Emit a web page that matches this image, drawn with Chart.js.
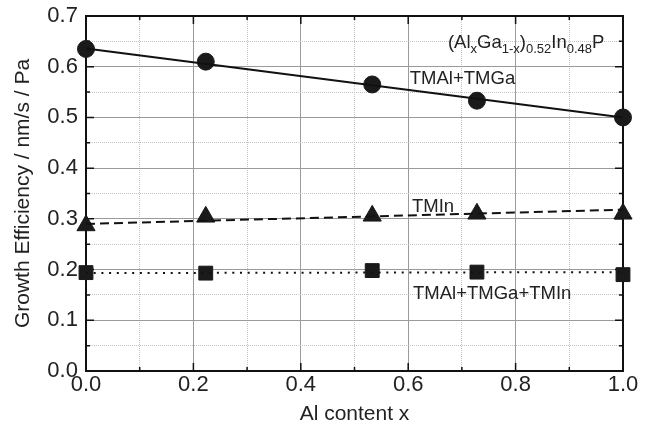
<!DOCTYPE html>
<html lang="en">
  <head>
    <meta charset="UTF-8" />
    <title>Growth efficiency vs Al content</title>
    <script src="https://cdn.jsdelivr.net/npm/chart.js@4.4.0/dist/chart.umd.min.js"></script>
    <style>
      body { margin: 0; background: #fff; }
      #wrap { width: 649px; height: 425px; }
    </style>
  </head>
  <body>
    <div id="wrap"><canvas id="chart" width="649" height="425"></canvas></div>
    <script>
      // values
      const alContent = [0.0, 0.223, 0.533, 0.728, 1.0];
      const tmalTmga = [0.635, 0.61, 0.565, 0.533, 0.5];
      const tmin = [0.287, 0.304, 0.306, 0.31, 0.31];
      const allThree = [0.194, 0.193, 0.198, 0.195, 0.19];

      // fitted lines (end points)
      const fitX = [0.0, 1.0];
      const fitTmalTmga = [0.636, 0.5];
      const fitTmin = [0.29, 0.318];
      const fitAll = [0.193, 0.195];

      // text labels placed in data coordinates
      const labels = [
        { text: "TMAl+TMGa", x: 0.603, y: 0.565 },
        { text: "TMIn", x: 0.607, y: 0.314 },
        { text: "TMAl+TMGa+TMIn", x: 0.609, y: 0.142 },
      ];

      const FONT = '"Liberation Sans", Arial, sans-serif';
      const pts = (xs, ys) => xs.map((x, i) => ({ x: x, y: ys[i] }));
      const isMajorX = (v) => Math.round(v * 10) % 2 === 0;
      const isMajorY = (v) => Math.round(v * 100) % 10 === 0;

      // frame, inward tick marks and text labels
      const decor = {
        id: "decor",
        beforeDatasetsDraw(chart) {
          const { ctx, chartArea: a, scales } = chart;
          ctx.save();
          ctx.strokeStyle = "#111";
          ctx.lineWidth = 1.5;
          scales.x.ticks.forEach((t) => {
            const px = scales.x.getPixelForValue(t.value);
            const len = isMajorX(t.value) ? 8 : 4;
            ctx.beginPath();
            ctx.moveTo(px, a.bottom);
            ctx.lineTo(px, a.bottom - len);
            ctx.moveTo(px, a.top);
            ctx.lineTo(px, a.top + len);
            ctx.stroke();
          });
          scales.y.ticks.forEach((t) => {
            const py = scales.y.getPixelForValue(t.value);
            const len = isMajorY(t.value) ? 8 : 4;
            ctx.beginPath();
            ctx.moveTo(a.left, py);
            ctx.lineTo(a.left + len, py);
            ctx.moveTo(a.right, py);
            ctx.lineTo(a.right - len, py);
            ctx.stroke();
          });
          ctx.lineWidth = 2;
          ctx.strokeRect(a.left, a.top, a.right - a.left, a.bottom - a.top);
          ctx.restore();
        },
        afterDraw(chart) {
          const { ctx, scales } = chart;
          ctx.save();
          ctx.fillStyle = "#222";
          ctx.textBaseline = "alphabetic";
          ctx.font = "18.5px " + FONT;
          labels.forEach((l) => {
            ctx.fillText(l.text, scales.x.getPixelForValue(l.x), scales.y.getPixelForValue(l.y));
          });
          // (AlxGa1-x)0.52In0.48P
          const parts = [
            ["(Al", false], ["x", true], ["Ga", false], ["1-x", true],
            [")", false], ["0.52", true], ["In", false], ["0.48", true], ["P", false],
          ];
          let px = scales.x.getPixelForValue(0.674);
          const base = scales.y.getPixelForValue(0.637);
          parts.forEach(([s, sub]) => {
            ctx.font = (sub ? "13px " : "18.5px ") + FONT;
            ctx.fillText(s, px, sub ? base + 5 : base);
            px += ctx.measureText(s).width;
          });
          ctx.restore();
        },
      };

      const ctx = document.getElementById("chart").getContext("2d");
      new Chart(ctx, {
        type: "scatter",
        data: {
          datasets: [
            {
              data: pts(fitX, fitTmalTmga),
              showLine: true, borderColor: "#111", borderWidth: 2,
              pointRadius: 0, clip: false,
            },
            {
              data: pts(fitX, fitTmin),
              showLine: true, borderColor: "#111", borderWidth: 2,
              borderDash: [9, 5], pointRadius: 0, clip: false,
            },
            {
              data: pts(fitX, fitAll),
              showLine: true, borderColor: "#111", borderWidth: 2,
              borderDash: [2, 5.7], pointRadius: 0, clip: false,
            },
            {
              data: pts(alContent, tmalTmga),
              pointStyle: "circle", pointRadius: 8.5,
              backgroundColor: "#1a1a1a", borderColor: "#1a1a1a", clip: false,
            },
            {
              data: pts(alContent, tmin),
              pointStyle: "triangle", pointRadius: 10.5,
              backgroundColor: "#1a1a1a", borderColor: "#1a1a1a", clip: false,
            },
            {
              data: pts(alContent, allThree),
              pointStyle: "rect", pointRadius: 9.8,
              backgroundColor: "#1a1a1a", borderColor: "#1a1a1a", clip: false,
            },
          ],
        },
        options: {
          responsive: false,
          animation: false,
          layout: { padding: { top: 16, right: 26, left: 0, bottom: 0 } },
          plugins: { legend: { display: false }, tooltip: { enabled: false } },
          scales: {
            x: {
              type: "linear", min: 0, max: 1,
              afterFit: (s) => { s.height = 54; },
              ticks: {
                stepSize: 0.1, autoSkip: false, maxRotation: 0, padding: 3,
                color: "#222", font: { family: FONT, size: 22, lineHeight: 1 },
                callback: (v) => (isMajorX(v) ? v.toFixed(1) : ""),
              },
              grid: {
                drawTicks: false,
                color: (c) => (c.tick && isMajorX(c.tick.value) ? "#9a9a9a" : "#c4c4c4"),
                lineWidth: 1,
              },
              border: { display: false, dash: (c) => (c.tick && isMajorX(c.tick.value) ? [] : [1, 1]) },
              title: {
                display: true, text: "Al content x", color: "#222",
                font: { family: FONT, size: 21, lineHeight: 1 }, padding: { top: 0, bottom: 0 },
              },
            },
            y: {
              min: 0, max: 0.7,
              afterFit: (s) => { s.width = 86; },
              ticks: {
                stepSize: 0.05, autoSkip: false, padding: 2,
                color: "#222", font: { family: FONT, size: 22, lineHeight: 1 },
                // trailing space keeps the gap to the axis without extra top padding
                callback: (v) => (isMajorY(v) ? v.toFixed(1) + " " : ""),
              },
              grid: {
                drawTicks: false,
                color: (c) => (c.tick && isMajorY(c.tick.value) ? "#9a9a9a" : "#c4c4c4"),
                lineWidth: 1,
              },
              border: { display: false, dash: (c) => (c.tick && isMajorY(c.tick.value) ? [] : [1, 1]) },
              title: {
                display: true, text: "Growth Efficiency / nm/s / Pa", color: "#222",
                font: { family: FONT, size: 21, lineHeight: 1 }, padding: { top: 13, bottom: 0 },
              },
            },
          },
        },
        plugins: [decor],
      });
    </script>
  </body>
</html>
